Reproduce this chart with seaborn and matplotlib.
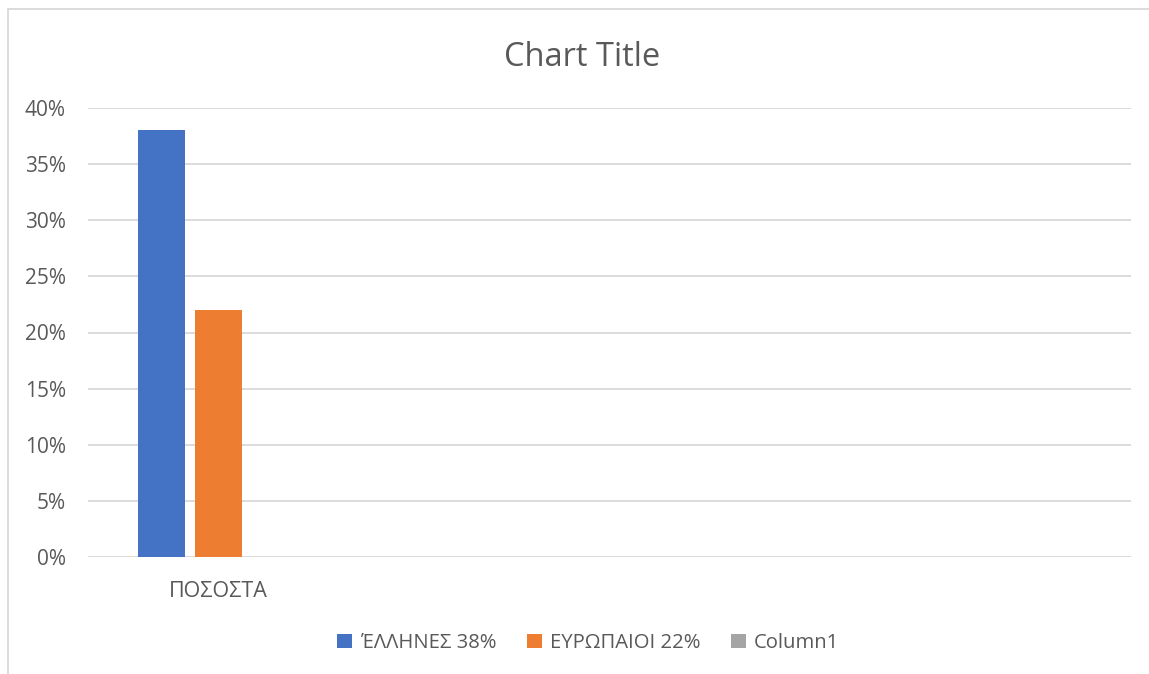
import numpy as np
import pandas as pd
import matplotlib.pyplot as plt
import seaborn as sns
from matplotlib.lines import Line2D
from matplotlib.patches import Patch

sns.set_style('white')
plt.rcParams['font.family'] = ['Open Sans', 'DejaVu Sans']

# data
categories = ['ΠΟΣΟΣΤΑ', '', ' ', '  ']
series = ['ΈΛΛΗΝΕΣ 38%', 'ΕΥΡΩΠΑΙΟΙ 22%', 'Column1']
values_greeks = [38, np.nan, np.nan, np.nan]
values_europeans = [22, np.nan, np.nan, np.nan]
values_column1 = [np.nan, np.nan, np.nan, np.nan]
colors = ['#4472C4', '#ED7D31', '#A5A5A5']
text_col = '#595959'
grid_col = '#D9D9D9'

df = pd.DataFrame({'category': categories * 3,
                   'series': [series[0]] * 4 + [series[1]] * 4 + [series[2]] * 4,
                   'value': values_greeks + values_europeans + values_column1})

fig = plt.figure(figsize=(11.49, 6.74), dpi=100)
ax = fig.add_axes([88 / 1149, 1 - 557 / 674, (1131 - 88) / 1149, (557 - 108) / 674])

sns.barplot(data=df, x='category', y='value', hue='series', hue_order=series, order=categories,
            palette=colors, width=0.655, gap=0.176, ax=ax, legend=False, saturation=1,
            linewidth=0, edgecolor='none')

ax.set_ylim(0, 40)
ax.set_xlim(-0.5, 3.5)
ax.set_yticks(range(0, 41, 5))
ax.set_yticklabels(['%d%%' % t for t in range(0, 41, 5)])
ax.yaxis.grid(True, color=grid_col, linewidth=1.3)
ax.set_axisbelow(True)
for s in ax.spines.values():
    s.set_visible(False)
ax.tick_params(axis='y', length=0, pad=16, labelsize=15, labelcolor=text_col)
ax.tick_params(axis='x', length=0, pad=17, labelsize=15.5, labelcolor=text_col)
ax.set_xlabel('')
ax.set_ylabel('')

fig.text(0.507, 1 - 57 / 674, 'Chart Title', ha='center', va='center', fontsize=23.5, color=text_col)

handles = [Patch(facecolor=c, edgecolor='none') for c in colors]
fig.legend(handles, series, loc='center', bbox_to_anchor=(0.512, 1 - 643 / 674), ncol=3, frameon=False,
           fontsize=14.6, labelcolor=text_col, handlelength=0.75, handleheight=0.75, handletextpad=0.4,
           columnspacing=1.5)

# chart border
fig.add_artist(Line2D([8 / 1149, 1], [1 - 9 / 674, 1 - 9 / 674], color=grid_col, linewidth=1.3))
fig.add_artist(Line2D([8 / 1149, 8 / 1149], [0, 1 - 9 / 674], color=grid_col, linewidth=1.3))

fig.savefig('out.png', dpi=100)
